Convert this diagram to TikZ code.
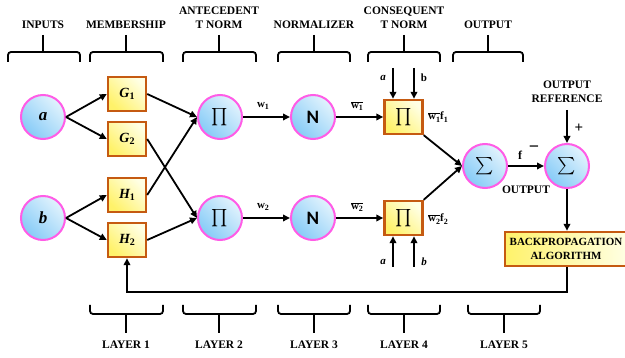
\documentclass[tikz,border=0pt]{standalone}
\usepackage{amsmath}
\usepackage{fontspec}
\setmainfont{Liberation Serif}
\setsansfont{Carlito}
\usetikzlibrary{arrows.meta}
\definecolor{pinkb}{HTML}{FF5CE6}
\definecolor{bluel}{HTML}{E2F3FD}
\definecolor{blued}{HTML}{86CBF7}
\definecolor{orgb}{HTML}{C55A11}
\definecolor{yell}{HTML}{FFFFE4}
\definecolor{yeld}{HTML}{FFF26A}
\newcommand\sbx[2][9]{\raisebox{-0.45ex}{\fontsize{#1}{#1}\selectfont #2}}
\tikzset{
  circ/.style={circle, draw=pinkb, line width=2pt, minimum size=44pt, inner sep=0pt,
    top color=bluel, bottom color=blued, shading angle=-45},
  fbox/.style={rectangle, draw=orgb, line width=2.4pt, minimum width=38pt, minimum height=34pt,
    inner sep=0pt, top color=yell, bottom color=yeld, shading angle=-45},
  arr/.style={-{Triangle[length=7pt,width=6.5pt]}, line width=1.8pt},
  brk/.style={line width=1.8pt, rounded corners=3pt},
  ttl/.style={font=\fontsize{11.5}{14}\selectfont\bfseries, align=center, inner sep=0pt},
  lab/.style={font=\fontsize{11}{11}\selectfont\bfseries, inner sep=0pt},
}
\begin{document}
\begin{tikzpicture}[x=1pt,y=-1pt]
\useasboundingbox (0,0) rectangle (625,358);
% top titles
\node[ttl] (t1) at (43,25) {INPUTS};
\node[ttl] (t2) at (126,25) {MEMBERSHIP};
\node[ttl] (t3) at (219,18) {ANTECEDENT\\T NORM};
\node[ttl] (t4) at (314,25) {NORMALIZER};
\node[ttl] (t5) at (404,18) {CONSEQUENT\\T NORM};
\node[ttl] (t6) at (488,25) {OUTPUT};
\foreach \xa/\xb/\xc in {8/80/43, 90/163/126, 183/256/219, 278/350/314, 368/440/404, 453/523/488}{
  \draw[brk] (\xa,62) -- (\xa,52) -- (\xb,52) -- (\xb,62);
  \draw[line width=1.8pt] (\xc,35) -- (\xc,52);
}
% bottom layers
\foreach \xa/\xb/\xc/\n in {90/163/126/1, 183/256/219/2, 278/350/314/3, 368/440/404/4, 468/540/504/5}{
  \draw[brk] (\xa,305) -- (\xa,314) -- (\xb,314) -- (\xb,305);
  \draw[line width=1.8pt] (\xc,314) -- (\xc,333);
  \node[ttl] (l\n) at (\xc,345) {LAYER \n};
}
% nodes
\node[circ] (a) at (43,117) {\fontsize{17}{17}\selectfont\bfseries\itshape a};
\node[circ] (b) at (43,218) {\fontsize{17}{17}\selectfont\bfseries\itshape b};
\node[fbox] (G1) at (127,94) {{\fontsize{14}{14}\selectfont\bfseries\itshape G}\sbx[10]{\bfseries 1}};
\node[fbox] (G2) at (127,139) {{\fontsize{14}{14}\selectfont\bfseries\itshape G}\sbx[10]{\bfseries 2}};
\node[fbox] (H1) at (127,195) {{\fontsize{14}{14}\selectfont\bfseries\itshape H}\sbx[10]{\bfseries 1}};
\node[fbox] (H2) at (127,240) {{\fontsize{14}{14}\selectfont\bfseries\itshape H}\sbx[10]{\bfseries 2}};
\node[circ] (P1) at (220,117) {\fontsize{17}{17}\selectfont$\prod$};
\node[circ] (P2) at (220,218) {\fontsize{17}{17}\selectfont$\prod$};
\node[circ] (N1) at (313,117) {\fontsize{19}{19}\selectfont\sffamily\bfseries N};
\node[circ] (N2) at (313,218) {\fontsize{19}{19}\selectfont\sffamily\bfseries N};
\node[fbox] (C1) at (403.5,117) {\fontsize{17}{17}\selectfont$\prod$};
\node[fbox] (C2) at (403.5,218) {\fontsize{17}{17}\selectfont$\prod$};
\node[circ] (S1) at (485,166) {\fontsize{16}{16}\selectfont$\sum$};
\node[circ] (S2) at (567,166) {\fontsize{16}{16}\selectfont$\sum$};
\node[fbox, minimum width=122pt, minimum height=34pt, align=center, left color=yeld, right color=yell,
  font=\fontsize{11}{13.5}\selectfont\bfseries] (BP) at (566,249) {BACKPROPAGATION\\ALGORITHM};
% connectors
\draw[arr] (a.east) -- (G1.west);
\draw[arr] (a.east) -- (G2.west);
\draw[arr] (b.east) -- (H1.west);
\draw[arr] (b.east) -- (H2.west);
\draw[arr] (G1.east) -- (P1.west);
\draw[arr] (H1.east) -- (P1.west);
\draw[arr] (G2.east) -- (P2.west);
\draw[arr] (H2.east) -- (P2.west);
\draw[arr] (P1.east) -- (N1.west);
\draw[arr] (P2.east) -- (N2.west);
\draw[arr] (N1.east) -- (C1.west);
\draw[arr] (N2.east) -- (C2.west);
\draw[arr] (C1.south east) -- (S1.west);
\draw[arr] (C2.north east) -- (S1.west);
\draw[arr] (S1.east) -- (S2.west);
\coordinate (ta) at (393,68);
\coordinate (tb) at (414,68);
\coordinate (ba) at (393,267);
\coordinate (bb) at (414,267);
\coordinate (ref) at (567,110);
\draw[arr] (ta) -- (ta |- C1.north);
\draw[arr] (tb) -- (tb |- C1.north);
\draw[arr] (ba) -- (ba |- C2.south);
\draw[arr] (bb) -- (bb |- C2.south);
\draw[arr] (ref) -- (S2.north);
\draw[arr] (S2.south) -- (S2.south |- BP.north);
\draw[arr] (S2.south |- BP.south) -- ++(0,25) -| (H2.south);
% labels
\node[lab] (w1) at (263,106) {w\sbx[8]{1}};
\node[lab] (w2) at (263,207) {w\sbx[8]{2}};
\node[lab] (wb1) at (357,106) {$\overline{\mbox{w\sbx[8]{1}}}$};
\node[lab] (wb2) at (357,207) {$\overline{\mbox{w\sbx[8]{2}}}$};
\node[lab, anchor=west] (wf1) at (428,117) {$\overline{\mbox{w\sbx[8]{1}}}$f\sbx[8]{1}};
\node[lab, anchor=west] (wf2) at (428,219) {$\overline{\mbox{w\sbx[8]{2}}}$f\sbx[8]{2}};
\node[lab, font=\fontsize{11}{11}\selectfont\bfseries\itshape] (la1) at (383,78) {a};
\node[lab] (lb1) at (424,78) {b};
\node[lab, font=\fontsize{11}{11}\selectfont\bfseries\itshape] (la2) at (383,262) {a};
\node[lab, font=\fontsize{11}{11}\selectfont\bfseries\itshape] (lb2) at (424,262) {b};
\node[lab, font=\fontsize{12}{12}\selectfont\bfseries] (fl) at (520,155) {f};
\node[lab, font=\fontsize{18}{18}\selectfont\bfseries] (mn) at (534,149) {−};
\node[lab, font=\fontsize{15}{15}\selectfont\bfseries] (pl) at (579,128) {+};
\node[ttl] (outl) at (526,190) {OUTPUT};
\node[ttl] (oref) at (567,92) {OUTPUT\\REFERENCE};
\end{tikzpicture}
\end{document}
